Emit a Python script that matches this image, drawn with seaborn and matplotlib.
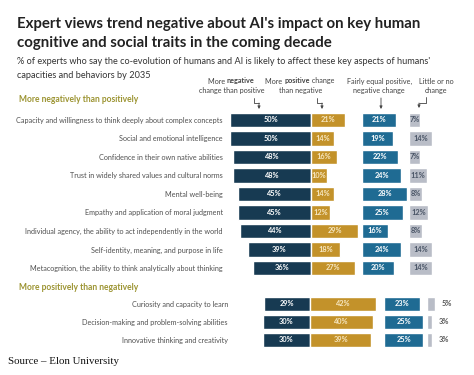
import matplotlib
matplotlib.use("Agg")
import matplotlib.pyplot as plt
import seaborn as sns
import pandas as pd
from matplotlib.lines import Line2D
from matplotlib.patches import FancyArrowPatch

# ---------------- data ----------------
neg_traits = [
    "Capacity and willingness to think deeply about complex concepts",
    "Social and emotional intelligence",
    "Confidence in their own native abilities",
    "Trust in widely shared values and cultural norms",
    "Mental well-being",
    "Empathy and application of moral judgment",
    "Individual agency, the ability to act independently in the world",
    "Self-identity, meaning, and purpose in life",
    "Metacognition, the ability to think analytically about thinking",
]
neg_more_negative = [50, 50, 48, 48, 45, 45, 44, 39, 36]
neg_more_positive = [21, 14, 16, 10, 14, 12, 29, 18, 27]
neg_equal = [21, 19, 22, 24, 28, 25, 16, 24, 20]
neg_no_change = [7, 14, 7, 11, 8, 12, 8, 14, 14]

pos_traits = [
    "Curiosity and capacity to learn",
    "Decision-making and problem-solving abilities",
    "Innovative thinking and creativity",
]
pos_more_negative = [29, 30, 30]
pos_more_positive = [42, 40, 39]
pos_equal = [23, 25, 25]
pos_no_change = [5, 3, 3]

title_lines = [
    "Expert views trend negative about AI's impact on key human",
    "cognitive and social traits in the coming decade",
]
subtitle_lines = [
    "% of experts who say the co-evolution of humans and AI is likely to affect these key aspects of humans'",
    "capacities and behaviors by 2035",
]
section_titles = ["More negatively than positively", "More positively than negatively"]
source_text = "Source \u2013 Elon University"

# ---------------- style ----------------
NAVY = "#173a52"
GOLD = "#c3922a"
BLUE = "#1f6b93"
GREY = "#b9bdc7"
OLIVE = "#9c9432"
LABEL = "#505050"

sns.set_theme(style="white")
plt.rcParams["font.family"] = ["Lato", "DejaVu Sans"]

W, H = 474, 375
fig = plt.figure(figsize=(W / 100, H / 100), dpi=100)
fig.patch.set_facecolor("white")
renderer = fig.canvas.get_renderer()


def fx(x):
    return x / W


def fy(y):
    return 1 - y / H


def add_ax(x0, x1, y0, y1):
    ax = fig.add_axes([fx(x0), fy(y1), (x1 - x0) / W, (y1 - y0) / H])
    ax.set_facecolor("none")
    return ax


def width_px(t):
    return t.get_window_extent(renderer).width


def fit(t, target):
    t.set_fontsize(t.get_fontsize() * target / width_px(t))
    return t


def size_for(text, target, weight="normal", family=None):
    kw = {}
    if family:
        kw["family"] = family
    t = fig.text(0, 0, text, fontsize=10, fontweight=weight, **kw)
    s = 10 * target / width_px(t)
    t.remove()
    return s


# ---------------- titles ----------------
t = fig.text(fx(17), fy(24), title_lines[0], fontweight="bold", color="#222222", va="center", fontsize=10)
fit(t, 405)
tsize = t.get_fontsize()
fig.text(fx(17), fy(43), title_lines[1], fontweight="bold", color="#222222", va="center", fontsize=tsize)

t = fig.text(fx(17), fy(62), subtitle_lines[0], color="#333333", va="center", fontsize=7)
fit(t, 413)
ssize = t.get_fontsize()
fig.text(fx(17), fy(76), subtitle_lines[1], color="#333333", va="center", fontsize=ssize)

# section headers
for txt, yc in zip(section_titles, [100, 287]):
    t = fig.text(fx(19), fy(yc), txt, fontweight="bold", color=OLIVE, va="center", fontsize=6)
    fit(t, 120)

# source
t = fig.text(fx(8), fy(362), source_text, family=["Liberation Serif"], color="#111111",
             va="center", fontsize=7)
fit(t, 112)

# ---------------- column headers ----------------
hsize = size_for("Fairly equal positive,", 65)


def mixed_line(xc, yc, parts):
    texts = []
    for s, w in parts:
        tt = fig.text(0, fy(yc), s, fontsize=hsize, fontweight=w, color="#444444", va="center", ha="left")
        texts.append(tt)
    widths = [width_px(tt) for tt in texts]
    x = xc - sum(widths) / 2
    for tt, w in zip(texts, widths):
        tt.set_x(fx(x))
        x += w


mixed_line(231, 81, [("More ", "normal"), ("negative", "bold")])
mixed_line(232, 90, [("change than positive", "normal")])
mixed_line(300, 81, [("More ", "normal"), ("positive", "bold"), (" change", "normal")])
mixed_line(301, 90, [("than negative", "normal")])
mixed_line(380, 81, [("Fairly equal positive,", "normal")])
mixed_line(379, 90, [("negative change", "normal")])
mixed_line(436, 81, [("Little or no", "normal")])
mixed_line(436, 90, [("change", "normal")])


def elbow(points):
    xs = [fx(p[0]) for p in points[:-1]]
    ys = [fy(p[1]) for p in points[:-1]]
    fig.add_artist(Line2D(xs, ys, transform=fig.transFigure, color="#444444", lw=0.6))
    a = FancyArrowPatch((fx(points[-2][0]), fy(points[-2][1])), (fx(points[-1][0]), fy(points[-1][1])),
                        transform=fig.transFigure, arrowstyle="-|>", mutation_scale=4,
                        color="#444444", lw=0.6, shrinkA=0, shrinkB=0)
    fig.add_artist(a)


elbow([(254, 98), (254, 103), (259, 103), (259, 109)])
elbow([(317, 98), (317, 103), (322, 103), (322, 109)])
elbow([(381, 98), (381, 109)])
elbow([(426, 97), (426, 103), (419, 103), (419, 108)])

# ---------------- bars ----------------
cat_size = size_for(neg_traits[0], 206)
BAR_W = 0.76
LBL = 5.3


def section(traits, mneg, mpos, eq, nc, y_top, y_bot, div_left, divider, div_right,
            eq_left, nc_left, scale, nc_outside):
    n = len(traits)
    df = pd.DataFrame({
        "trait": traits,
        "neg": [-v for v in mneg],
        "pos": mpos,
        "eq": eq,
        "nc": nc,
    })
    # diverging part
    ax = add_ax(div_left, div_right, y_top, y_bot)
    sns.barplot(data=df, y="trait", x="neg", color=NAVY, width=BAR_W, saturation=1,
                errorbar=None, orient="h", ax=ax)
    sns.barplot(data=df, y="trait", x="pos", color=GOLD, width=BAR_W, saturation=1,
                errorbar=None, orient="h", ax=ax)
    ax.bar_label(ax.containers[0], labels=[f"{v}%" for v in mneg], label_type="center",
                 color="white", fontsize=LBL, fontweight="bold")
    ax.bar_label(ax.containers[1], labels=[f"{v}%" for v in mpos], label_type="center",
                 color="#f6e7c1", fontsize=LBL, fontweight="bold")
    ax.set_xlim(-(divider - div_left) / scale, (div_right - divider) / scale)
    ax.set_ylim(n - 0.5, -0.5)
    ax.set_xlabel("")
    ax.set_ylabel("")
    ax.set_xticks([])
    ax.tick_params(axis="y", length=0, pad=2.2, labelsize=cat_size, labelcolor=LABEL)
    sns.despine(ax=ax, left=True, bottom=True)

    # fairly equal
    ax2 = add_ax(eq_left, eq_left + 30 * scale, y_top, y_bot)
    sns.barplot(data=df, y="trait", x="eq", color=BLUE, width=BAR_W, saturation=1,
                errorbar=None, orient="h", ax=ax2)
    ax2.bar_label(ax2.containers[0], labels=[f"{v}%" for v in eq], label_type="center",
                  color="white", fontsize=LBL, fontweight="bold")
    ax2.set_xlim(0, 30)
    ax2.set_ylim(n - 0.5, -0.5)
    ax2.axis("off")

    # little or no change
    ax3 = add_ax(nc_left, nc_left + 20 * scale, y_top, y_bot)
    sns.barplot(data=df, y="trait", x="nc", color=GREY, width=BAR_W, saturation=1,
                errorbar=None, orient="h", ax=ax3)
    if nc_outside:
        ax3.bar_label(ax3.containers[0], labels=[f"{v}%" for v in nc], label_type="edge",
                      padding=5, color="#555555", fontsize=LBL, fontweight="bold")
    else:
        ax3.bar_label(ax3.containers[0], labels=[f"{v}%" for v in nc], label_type="center",
                      color="#4a5566", fontsize=LBL, fontweight="bold")
    ax3.set_xlim(0, 20)
    ax3.set_ylim(n - 0.5, -0.5)
    ax3.axis("off")


section(neg_traits, neg_more_negative, neg_more_positive, neg_equal, neg_no_change,
        y_top=110.75, y_bot=277.25, div_left=226, divider=311, div_right=365,
        eq_left=362, nc_left=409, scale=1.62, nc_outside=False)

section(pos_traits, pos_more_negative, pos_more_positive, pos_equal, pos_no_change,
        y_top=295, y_bot=349, div_left=231, divider=310, div_right=382,
        eq_left=384, nc_left=427, scale=1.57, nc_outside=True)

fig.savefig("out.png", dpi=100, facecolor="white")
